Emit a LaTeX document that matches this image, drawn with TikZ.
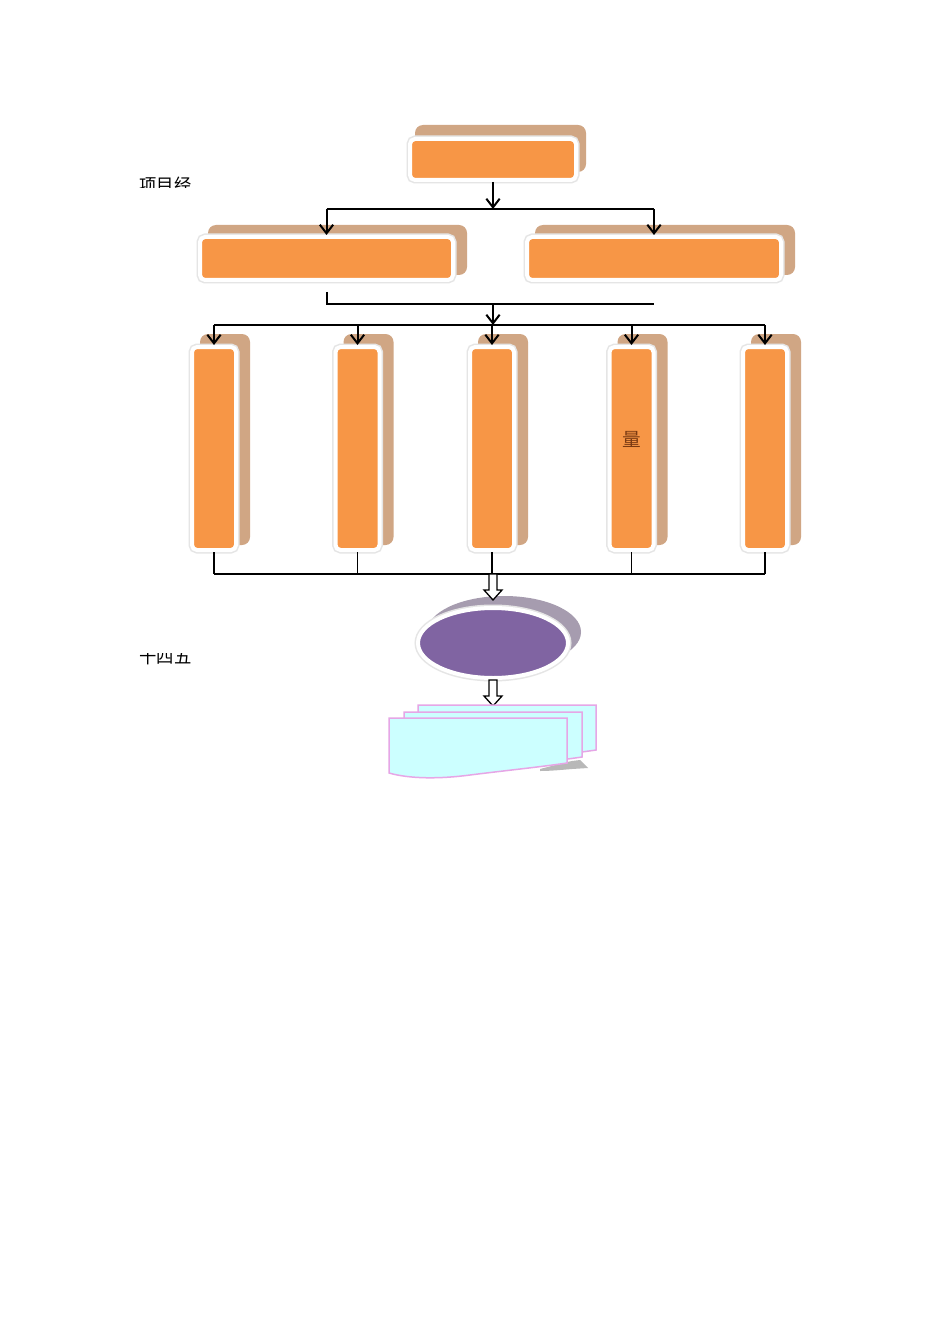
\documentclass[tikz,border=0pt]{standalone}
\usepackage{fontspec}
\newfontfamily\cjk{Noto Sans CJK SC}
\usetikzlibrary{arrows.meta}
\usetikzlibrary{shapes.geometric}

\newdimen\px \px=0.75pt
\definecolor{boxorange}{HTML}{F79646}
\definecolor{boxtan}{HTML}{D0A684}
\definecolor{ovalpurple}{HTML}{8064A2}
\definecolor{ovalgrey}{HTML}{A69CAF}
\definecolor{doccyan}{HTML}{CCFFFF}
\definecolor{docpink}{HTML}{E6A6E6}
\definecolor{markbrown}{HTML}{7A3A12}

\begin{document}
\begin{tikzpicture}[x=0.75pt,y=-0.75pt,semithick,
    >={Straight Barb[length=6.5pt,width=10pt]},
    card/.style={draw=white,line width=4\px,fill=boxorange,rounded corners=5\px,inner sep=0pt,
      preaction={draw=black!10,line width=7\px}},
    cardback/.style={fill=boxtan,rounded corners=8\px},
    oval/.style={ellipse,draw=white,line width=4\px,fill=ovalpurple,inner sep=0pt,
      preaction={draw=black!10,line width=7\px}},
    wire/.style={line width=2\px},
    drop/.style={line width=1.2\px},
    hollow/.style={draw,fill=white,line width=1.3\px},
    docsheet/.style={fill=doccyan,draw=docpink,line width=1.5\px},
    side/.style={font=\cjk\fontsize{13}{13}\selectfont,inner sep=0pt}]
  \fill[white] (0,0) rectangle (950,1344);
  \useasboundingbox (0,0) rectangle (950,1344);

  % top box
  \fill[cardback] (415,125) rectangle (586,172);
  \node[card,minimum width=166\px,minimum height=41\px] (top) at (493,159.5) {};

  % second row
  \fill[cardback] (208,225) rectangle (467,275);
  \fill[cardback] (535,225) rectangle (795,275);
  \node[card,minimum width=253\px,minimum height=43\px] (left2) at (326.5,258.5) {};
  \node[card,minimum width=254\px,minimum height=43\px] (right2) at (654,258.5) {};

  % columns
  \foreach \cx/\n/\txt in {214/1/,357.5/2/,492/3/,631.5/4/量,765/5/}{
    \fill[cardback] (\cx-14,334) rectangle (\cx+36,545);
    \node[card,minimum width=44\px,minimum height=203\px,text=markbrown,
      font=\cjk\fontsize{14}{14}\selectfont,text depth=20\px] (col\n) at (\cx,448.5) {\txt};
  }

  % top split
  \coordinate (split) at (493,209);
  \draw[->,wire] (top.south) -- (top.south |- split);
  \draw[wire] (left2.north |- split) -- (right2.north |- split);
  \draw[->,wire] (left2.north |- split) -- (left2.north);
  \draw[->,wire] (right2.north |- split) -- (right2.north);

  % merge to bus
  \coordinate (merge) at (493,304);
  \coordinate (bus) at (493,325);
  \draw[wire] ([yshift=-7.5pt]left2.south) |- (right2.south |- merge);
  \draw[->,wire] (merge) -- (bus);
  \draw[wire] (col1.north |- bus) -- (col5.north |- bus);
  \foreach \n in {1,...,5}
    \draw[->,wire] (col\n.north |- bus) -- (col\n.north);

  % join below columns
  \coordinate (join) at (493,574);
  \foreach \n in {1,...,5}
    \draw[drop] (col\n.south) -- (col\n.south |- join);
  \draw[wire] (col1.south |- join) -- (col5.south |- join);

  % oval
  \fill[ovalgrey] (504,632) ellipse [x radius=77, y radius=36];
  \node[oval,minimum width=150\px,minimum height=70\px] (hub) at (493,643) {};
  \draw[hollow] (join) ++(-4,0) -- ++(0,16) -- ++(-5,0) -- ++(9,10) -- ++(9,-10) -- ++(-5,0) -- ++(0,-16) -- cycle;
  \draw[hollow] (hub.south) ++(-4,0) -- ++(0,16) -- ++(-5,0) -- ++(9,10) -- ++(9,-10) -- ++(-5,0) -- ++(0,-16) -- cycle;

  % document stack
  \foreach \dx/\dy in {29/-13,15/-6}
    \filldraw[docsheet,shift={(\dx,\dy)}] (389,718) -- (567,718) -- (567,763)
      .. controls (540,767) and (510,770) .. (470,775)
      .. controls (440,779) and (410,779) .. (389,773) -- cycle;
  \fill[black!28] (540,769) .. controls (552,766) and (562,763) .. (572,761) -- (580,760)
    -- (588,768) -- (572,769) .. controls (560,770) and (550,771) .. (540,771) -- cycle;
  \filldraw[docsheet] (389,718) -- (567,718) -- (567,763)
    .. controls (540,767) and (510,770) .. (470,775)
    .. controls (440,779) and (410,779) .. (389,773) -- cycle;

  % side labels, cut off as printed
  \begin{scope}
    \clip (130,175) rectangle (210,188);
    \node[side,anchor=base west] (lblpm) at (139,192) {项目经};
  \end{scope}
  \begin{scope}
    \clip (130,653) rectangle (210,668);
    \node[side,anchor=base west] (lblplan) at (139,663) {十四五};
  \end{scope}
\end{tikzpicture}
\end{document}
